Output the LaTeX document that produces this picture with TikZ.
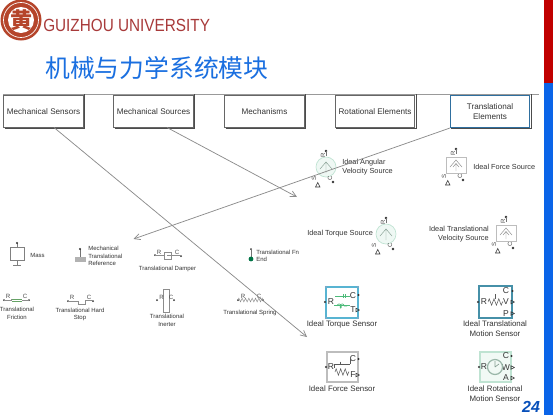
\documentclass[tikz,border=0pt]{standalone}
\usepackage{fontspec}
\usepackage{graphicx}
\setmainfont{Liberation Sans}
\newfontfamily\cjkfont{Noto Sans CJK SC}
\usetikzlibrary{arrows.meta,decorations.pathmorphing,patterns}
\definecolor{txtc}{HTML}{333333}
\definecolor{barred}{HTML}{C00000}
\definecolor{barblue}{HTML}{0A64E8}
\definecolor{titleblue}{HTML}{1A6FE0}
\definecolor{logored}{HTML}{B5452B}
\definecolor{unired}{HTML}{A83A3A}
\definecolor{linec}{HTML}{8C8C8C}
\definecolor{palegreen}{HTML}{BFE3D2}
\definecolor{palegrey}{HTML}{BDBDBD}
\definecolor{selblue}{HTML}{2F6F9F}
\definecolor{sensblue}{HTML}{58B4D2}
\definecolor{sensgreen}{HTML}{4DBB7A}
\newcommand{\fsz}[1]{\fontsize{#1}{#1}\selectfont}
\newcommand{\srcports}{%
  \fill[black!80] (0,-16) circle (1.3);
  \draw[black!55,line width=.3pt] (0,-16) -- (0,-11);
  \node[portlab,rotate=90] at (-3,-12) {R};
  \node[portlab,rotate=90] at (-12,11) {S};
  \node[portlab,rotate=90] at (4,11) {C};
  \draw[black!80,line width=.4pt] (-10.5,20) -- (-6,20) -- (-8.25,15.5) -- cycle;
  \fill[black!80] (7,15) circle (1.3);
}
\tikzset{
  x=0.75pt,y=-0.75pt,
  menubox/.style={draw=black!60,line width=.6pt,fill=white,minimum width=59.5pt,minimum height=23.5pt,
    align=center,font=\fsz{6.1},text=txtc,inner sep=0pt},
  sellbox/.style={menubox,draw=selblue,line width=.9pt},
  boxshade/.style={draw=black!70,line width=.9pt},
  biglab/.style={font=\fsz{5.9},text=txtc,align=center,inner sep=0pt},
  srclab/.style={font=\fsz{5.5},text=txtc,inner sep=0pt},
  smalllab/.style={font=\fsz{4.5},text=txtc,align=center,inner sep=0pt},
  portlab/.style={font=\fsz{4.6},text=black!70,inner sep=0pt},
  sensport/.style={font=\fsz{6.4},text=black!80,inner sep=0pt},
  conn/.style={draw=linec,line width=.55pt,-{Straight Barb[length=4.5pt,width=4.5pt]}},
  srccircle/.pic={
    \draw[palegreen,fill=palegreen!25,line width=.5pt] (0,0) circle (10);
    \draw[palegreen!70!black,line width=.35pt] (-6,2) -- (0,-5) -- (6,2) (0,-5) -- (0,6);
    \srcports
  },
  srcbox/.pic={
    \draw[palegrey,line width=.5pt] (-10,-8) rectangle (10,8);
    \draw[black!45,line width=.35pt] (-6,2) -- (0,-5) -- (6,2) (-3,2) -- (0,-1.5) -- (3,2) (0,-1.5) -- (0,6);
    \srcports
  },
  senspin/.pic={
    \draw[black!80,line width=.4pt] (0,-1.8) -- (3.4,0) -- (0,1.8) -- cycle;
  },
}
\begin{document}
\begin{tikzpicture}
\useasboundingbox (0,0) rectangle (553,415);
\fill[white] (0,0) rectangle (553,415);
% side bars
\fill[barred] (544,0) rectangle (553,83);
\fill[barblue] (544,83) rectangle (553,415);
% logo
\fill[logored] (21,20) circle (20.5);
\draw[white,line width=.5pt] (21,20) circle (17.5);
\fill[white] (21,20) circle (13);
\node[font=\cjkfont\bfseries\fsz{16.5},text=logored,inner sep=0pt] (logoglyph) at (21,20) {黄};
\node[font=\fsz{13.2},text=unired,anchor=west,inner sep=0pt] (uni) at (43,25.5) {\scalebox{.87}[1]{GUIZHOU UNIVERSITY}};
\node[font=\cjkfont\fsz{18.6},text=titleblue,anchor=west,inner sep=0pt] (title) at (45,68) {机械与力学系统模块};
% rule
\coordinate (ruleL) at (3,94);
\coordinate (ruleR) at (539,94);
\draw[black!40,line width=.5pt] (ruleL) -- (ruleR);
% menu
\node[menubox] (msens) at (43.5,111.5) {Mechanical Sensors};
\node[menubox] (msrc) at (153.5,111.5) {Mechanical Sources};
\node[menubox] (mech) at (264.5,111.5) {Mechanisms};
\node[menubox] (rot) at (375,111.5) {Rotational Elements};
\node[sellbox] (trans) at (490,111.5) {Translational\\[1.6pt]Elements};
\foreach \n in {msens,msrc,mech,rot,trans}
  \draw[boxshade] ([shift={(.8pt,-.8pt)}]\n.south west) -- ([shift={(.8pt,-.8pt)}]\n.south east) -- ([shift={(.8pt,.8pt)}]\n.north east);
% source blocks
\pic at (326,167) {srccircle};
\node[srclab,anchor=north west,align=left] (ias) at (342,158.5) {Ideal Angular\\[1.5pt]Velocity Source};
\pic at (456,165) {srcbox};
\node[srclab,anchor=west] (ifs) at (473,167) {Ideal Force Source};
\pic at (386,234) {srccircle};
\node[srclab,anchor=west] (its) at (307,234) {Ideal Torque Source};
\pic at (506,233) {srcbox};
\node[srclab,anchor=north east,align=right] (itv) at (489,225.5) {Ideal Translational\\[1.5pt]Velocity Source};
% sensors
\draw[sensblue,line width=1pt] (326,287) rectangle (358,318);
\foreach \p in {(326,287),(358,287),(326,318),(358,318)} \fill[selblue!60] \p circle (1.2);
\fill[black!80] (325,302) circle (1.2);
\node[sensport] at (331,302) {R};
\node[sensport] at (353,295.5) {C};
\node[sensport] at (353,310) {T};
\draw[sensgreen,line width=.5pt] (335,296) -- (350,296) (334,305) -- (350,305) (343,294) -- (343,298) (345,294) -- (345,298);
\draw[sensgreen,line width=.5pt,decorate,decoration={coil,aspect=.6,segment length=2.4pt,amplitude=1.6pt}] (337,306) -- (347,306);
\pic at (356,310) {senspin};
\fill[black!80] (358.5,295) circle (1.2);
\node[biglab] (itsens) at (342,324) {Ideal Torque Sensor};

\draw[sensblue!80!black,line width=1pt] (479,286) rectangle (512,318);
\fill[black!80] (478,302) circle (1.2);
\node[sensport] at (484,302) {R};
\node[sensport] at (506,291) {C};
\node[sensport] at (506,302) {V};
\node[sensport] at (506,313.5) {P};
\draw[black!65,line width=.4pt,decorate,decoration={zigzag,segment length=3.6pt,amplitude=2.4pt}] (488,302) -- (503,302);
\draw[black!65,line width=.4pt] (495,294) -- (495,299);
\pic at (511,302) {senspin}; \pic at (511,313.5) {senspin};
\fill[black!80] (512.5,291) circle (1.2);
\node[biglab] (itmsens) at (495,328.5) {Ideal Translational\\[2pt]Motion Sensor};

\draw[palegrey,line width=.9pt] (327,352) rectangle (358,382);
\fill[black!80] (326,367) circle (1.2);
\node[sensport] at (331,367) {R};
\node[sensport] at (353,359) {C};
\node[sensport] at (353,375) {F};
\draw[black!65,line width=.4pt] (334,364) -- (350,364) (340,361.5) -- (340,364) (334,364) -- (334,368) (350,364) -- (350,359);
\draw[black!65,line width=.4pt,decorate,decoration={zigzag,segment length=3.4pt,amplitude=2.4pt}] (335,372) -- (349,372);
\pic at (356,375) {senspin};
\fill[black!80] (358.5,359) circle (1.2);
\node[biglab] (ifsens) at (342,389) {Ideal Force Sensor};

\draw[palegreen,fill=palegreen!22,line width=.9pt] (480,352) rectangle (511,382);
\fill[black!80] (479,367) circle (1.2);
\node[sensport] at (484,367) {R};
\node[sensport] at (506,356) {C};
\node[sensport] at (506,367.5) {W};
\node[sensport] at (506,378) {A};
\draw[palegreen!80!black,line width=.9pt] (495,367) circle (7.5);
\draw[palegreen!70!black,line width=.5pt] (495,367) -- (495,361) (495,367) -- (499,364);
\pic at (511,367.5) {senspin}; \pic at (511,378) {senspin};
\fill[black!80] (511.5,356) circle (1.2);
\node[biglab] (irsens) at (495,393.5) {Ideal Rotational\\[2pt]Motion Sensor};
\node[font=\bfseries\itshape\fsz{12},text=barblue!80!black,inner sep=0pt] (pageno) at (531,406.5) {24};

% left blocks
\draw[black!50,line width=.45pt] (10,247) rectangle (24.5,260) (17,243) -- (17,247) (17,260) -- (17,265) (13,265.5) -- (21,265.5);
\fill[black!80] (17,243) circle (1.2);
\node[smalllab,anchor=west] (mass) at (30,255) {Mass};

\fill[black!30] (75,257) rectangle (86,262);
\draw[black!55,line width=.4pt] (80,249) -- (80,257);
\fill[black!80] (80,249) circle (1.2);
\node[smalllab,anchor=west,align=left] (mtr) at (88,256) {Mechanical\\[1.2pt]Translational\\[1.2pt]Reference};

% damper
\fill[black!80] (155,255) circle (1) (181,256) circle (1);
\node[portlab] at (159,252.5) {R};
\node[portlab] at (177,252.5) {C};
\draw[black!45,line width=.35pt] (155,255) -- (164,255) (164,252) rectangle (171,259) (167,255.5) -- (181,255.5);
\node[smalllab] (damper) at (167.5,269) {Translational Damper};

% fn end
\fill[black!80] (251,249) circle (1);
\draw[black!55,line width=.4pt] (251,249) -- (251,257);
\fill[black!60!green!45!teal] (251,259) circle (2.4);
\node[smalllab,anchor=west] (fn1) at (256,252) {Translational Fn};
\node[smalllab,anchor=west] (fn2) at (256,259.5) {End};

% friction
\fill[black!80] (4,300) circle (1) (29,300) circle (1);
\node[portlab] at (8,296.5) {R};
\node[portlab] at (25,296.5) {C};
\draw[black!45,line width=.35pt] (4,300) -- (11,300) -- (11,299) (22,300) -- (29,300);
\draw[black!60!green!60,line width=.5pt] (12,299) -- (22,299) (12,301.5) -- (22,301.5);
\node[smalllab] (fric) at (17,313.5) {Translational\\[1.2pt]Friction};

% hard stop
\fill[black!80] (68,301) circle (1) (93,301) circle (1);
\node[portlab] at (72,297) {R};
\node[portlab] at (89,297) {C};
\draw[black!45,line width=.35pt] (68,301) -- (78,301) -- (78,304) -- (85,304) -- (85,300) -- (93,300) ;
\node[smalllab] (hard) at (80,314.5) {Translational Hard\\[1.2pt]Stop};

% inerter
\draw[black!45,line width=.4pt] (163,289) rectangle (169.5,312);
\fill[black!80] (157,300) circle (1) (174,300) circle (1);
\node[portlab] at (161.5,297) {R};
\node[portlab] at (171,297) {C};
\node[smalllab] (inert) at (167,320.5) {Translational\\[1.2pt]Inerter};

% spring
\fill[black!80] (238,300) circle (1) (263,300) circle (1);
\node[portlab] at (243,296.5) {R};
\node[portlab] at (259,296.5) {C};
\draw[black!45,line width=.35pt,decorate,decoration={zigzag,segment length=2.5pt,amplitude=1.4pt}] (238,300) -- (263,300);
\node[smalllab] (spring) at (250,313) {Translational Spring};

% connectors
\coordinate (sensFrom) at (54,127.5);
\coordinate (srcFrom) at (167,127.5);
\coordinate (transFrom) at (450,128);
\coordinate (sensTo) at (307,337);
\coordinate (srcTo) at (297,197);
\coordinate (transTo) at (133.5,239);
\draw[conn] (sensFrom) -- (sensTo);
\draw[conn] (srcFrom) -- (srcTo);
\draw[conn] (transFrom) -- (transTo);
\end{tikzpicture}
\end{document}
